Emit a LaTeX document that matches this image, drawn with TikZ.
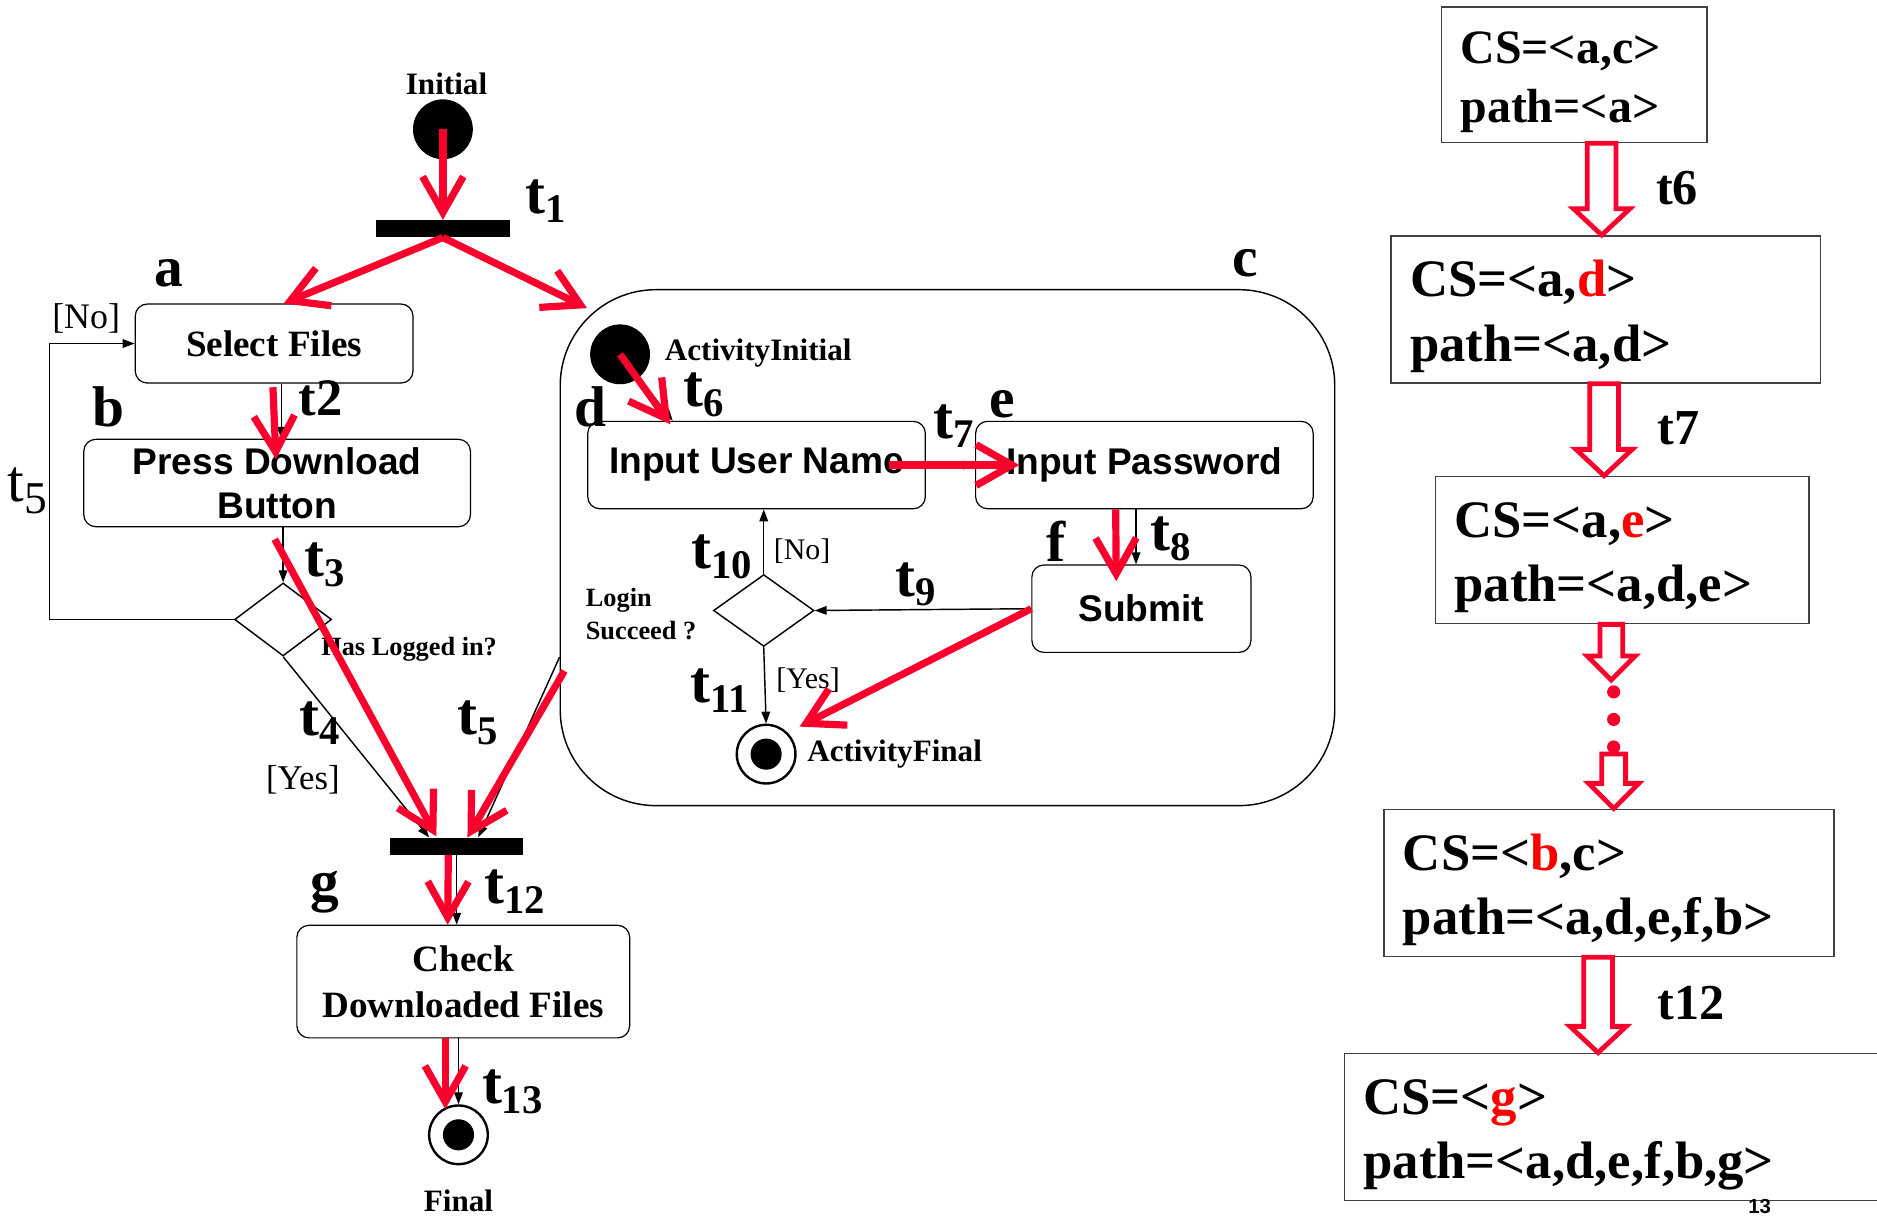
\documentclass[tikz,border=0pt]{standalone}
\usepackage{fontspec}
\setmainfont{Liberation Serif}
\newfontfamily\sansf{Liberation Sans}
\usetikzlibrary{arrows.meta,shapes.geometric,calc}
\definecolor{hl}{RGB}{250,0,45}
\newcommand{\fs}[2]{\fontsize{#1}{#2}\selectfont}
% bold transition label t with a lowered index
\newcommand{\tsub}[1]{\textbf{\fs{25}{25}t\raisebox{-4pt}{\fs{17}{17}#1}}}
% hollow block arrow between two points on a common vertical line
\newcommand{\hollowarrow}[6]{%
  \draw[hollow] let \p1=(#1 -| #3), \p2=(#2 -| #3) in
    (\x1-#4,\y1) -- (\x1-#4,\y2+#6) -- (\x1-#5,\y2+#6) -- (\x1,\y2)
    -- (\x1+#5,\y2+#6) -- (\x1+#4,\y2+#6) -- (\x1+#4,\y1) -- cycle;}
\begin{document}
\begin{tikzpicture}[x=0.5pt,y=-0.5pt,
  box/.style={draw, line width=0.5pt, rounded corners=5pt, inner sep=0pt, align=center},
  syncbar/.style={fill, inner sep=0pt, minimum height=7pt},
  dot/.style={circle, fill, inner sep=0pt, minimum size=25pt},
  ring/.style={circle, draw, line width=1pt, inner sep=0pt, minimum size=24.5pt},
  core/.style={circle, fill, inner sep=0pt, minimum size=13pt},
  choice/.style={diamond, draw, line width=0.6pt, inner sep=0pt},
  conn/.style={line width=0.6pt, -{Triangle[length=5pt,width=3.6pt]}},
  hot/.style={draw=hl, line width=3pt, -{Straight Barb[length=15pt,width=17pt]}},
  lab/.style={inner sep=0pt, font=\bfseries\fs{24}{24}},
  tl/.style={inner sep=0pt},
  csbox/.style={draw=black!75, line width=0.6pt, inner xsep=8pt, inner ysep=0pt, align=left, font=\bfseries\fs{22}{27}},
  hollow/.style={draw=hl, line width=2pt, fill=white, line join=miter},
  serifbox/.style={box, font=\bfseries\fs{15.5}{19}},
  sansbox/.style={box, font=\sansf\bfseries\fs{15.5}{18.5}},
]
\useasboundingbox (0,0) rectangle (1568,1015);

% ---------------- main activity ----------------
\node[dot] (init) at (370,108) {};
\node[font=\bfseries\fs{13}{13}, inner sep=0pt] (tinit) at (373,70) {Initial};
\node[syncbar, minimum width=56pt] (bar1) at (370,191) {};
\node[serifbox, minimum width=116pt, minimum height=33pt] (a) at (229,287) {Select Files};
\node[sansbox, minimum width=161.5pt, minimum height=36.5pt] (b) at (231.5,403.5) {Press Download\\Button};
\node[choice, minimum width=40.5pt, minimum height=30.5pt] (dec1) at (236.5,517.5) {};
\node[syncbar, minimum width=55.5pt] (bar2) at (381.5,707) {};
\node[serifbox, minimum width=139pt, minimum height=47pt] (g) at (387,820) {Check\\Downloaded Files};
\node[ring] (fin) at (383,948) {};
\node[core] (finc) at (fin.center) {};
\node[font=\bfseries\fs{13}{13}, inner sep=0pt] (tfin) at (383,1003) {Final};

% ---------------- composite state c ----------------
\node[draw, line width=0.6pt, rounded corners=40pt, minimum width=323.5pt, minimum height=215.5pt, inner sep=0pt] (c) at (791.5,457.5) {};
\node[dot] (ainit) at (518,296) {};
\node[anchor=west, inner sep=0pt, font=\bfseries\fs{13}{13}] (tainit) at (555,295) {ActivityInitial};
\node[sansbox, minimum width=141pt, minimum height=36.5pt] (d) at (632,388.5) {Input User Name};
\node[sansbox, minimum width=141pt, minimum height=36.5pt] (e) at (956,388.5) {Input Password};
\node[sansbox, minimum width=91.5pt, minimum height=36.5pt] (f) at (953.5,508.5) {Submit};
\node[choice, minimum width=42pt, minimum height=30pt] (dec2) at (638,510) {};
\node[ring] (afin) at (640,630) {};
\node[core] (afinc) at (afin.center) {};
\node[anchor=west, inner sep=0pt, font=\bfseries\fs{13}{13}] (tafin) at (674,630) {ActivityFinal};
\node[anchor=west, align=left, inner sep=0pt, font=\bfseries\fs{11}{13.5}] (tlogin) at (489,513) {Login\\Succeed ?};

% ---------------- labels ----------------
\node[tl] (t1) at (456,168) {\tsub{1}};
\node[lab] (la) at (141,228) {a};
\node[font=\fs{15}{15}, inner sep=0pt] (no1) at (72,266) {[No]};
\node[lab] (lb) at (91,340) {b};
\node[tl] (t2) at (268,333) {\textbf{\fs{22}{22}t2}};
\node[tl] (t5a) at (23,410) {\fs{25}{25}t\raisebox{-5pt}{\fs{19}{19}5}};
\node[tl] (t3) at (271,472) {\tsub{3}};
\node[anchor=west, inner sep=0pt, font=\bfseries\fs{11}{11}] (qlog) at (268,542) {Has Logged in?};
\node[tl] (t4) at (267,604) {\tsub{4}};
\node[font=\fs{14.5}{14.5}, inner sep=0pt] (yes1) at (253,651) {[Yes]};
\node[tl] (t5b) at (399,604) {\tsub{5}};
\node[lab] (lg) at (271,745) {g};
\node[tl] (t12) at (430,745) {\tsub{12}};
\node[tl] (t13) at (428,912) {\tsub{13}};
\node[lab] (lc) at (1040,220) {c};
\node[lab] (ld) at (493,340) {d};
\node[tl] (t6) at (588,330) {\tsub{6}};
\node[tl] (t7) at (797,356) {\tsub{7}};
\node[lab] (le) at (837,338) {e};
\node[lab] (lf) at (882,452) {f};
\node[tl] (t8) at (978,450) {\tsub{8}};
\node[tl] (t10) at (603,465) {\tsub{10}};
\node[font=\fs{12.5}{12.5}, inner sep=0pt] (no2) at (670,460) {[No]};
\node[tl] (t9) at (765,488) {\tsub{9}};
\node[tl] (t11) at (601,577) {\tsub{11}};
\node[font=\fs{12.5}{12.5}, inner sep=0pt] (yes2) at (675,568) {[Yes]};

% ---------------- black control flow ----------------
\coordinate (colab) at (235,0);
\coordinate (colf) at (949,0);
\draw[conn] (init) -- (bar1);
\draw[conn] (a.south -| colab) -- (b.north -| colab);
\draw[conn] (b.south -| dec1.north) -- (dec1.north);
\draw[conn] (dec1.west) -- ++(-154,0) |- (a.west);
\draw[conn] (dec1.south) -- ([xshift=-11.5pt]bar2.north);
\draw[conn] ([yshift=-45.75pt]c.west) -- ([xshift=9pt]bar2.north);
\draw[conn] (bar2.south) -- (bar2.south |- g.north);
\draw[conn] (g.south -| fin.north) -- (fin.north);
\draw[conn] (ainit) -- ([xshift=-35pt]d.north);
\draw[conn] (d.east) -- (e.west);
\draw[conn] (e.south -| colf) -- (f.north -| colf);
\draw[conn] (f.west) -- (dec2.east);
\draw[conn] (dec2.north) -- (d.south -| dec2.north);
\draw[conn] (dec2.south) -- (afin.north);

% ---------------- highlighted path ----------------
\draw[hot] (init.center) -- (bar1.north);
\draw[hot] (bar1.south) -- ([xshift=4pt]a.north);
\draw[hot] (bar1.south) -- ($(c.north west)+(23,16)$);
\draw[hot] ($(a.south)+(-1,3)$) -- ($(b.north)+(-1,17)$);
\draw[hot] ($(b.south)+(-2,10)$) -- ($(bar2.north)+(-17,-1)$);
\draw[hot] ($(c.west)+(4,103)$) -- ($(bar2.north)+(9,0)$);
\draw[hot] ($(bar2.south)+(-7,0)$) -- ($(g.north)+(-13,0)$);
\draw[hot] ($(g.south)+(-15,0)$) -- ($(fin.north)+(-11,4)$);
\draw[hot] (ainit.center) -- ($(d.north)+(-72,3)$);
\draw[hot] ($(d.east)+(-31,0)$) -- ($(e.west)+(37,0)$);
\draw[hot] ($(e.south)+(-24,0)$) -- ($(f.north)+(-21,14)$);
\draw[hot] (f.west) -- ($(afin.center)+(28,-23)$);

% ---------------- configuration trace ----------------
\node[csbox, font=\bfseries\fs{20}{24.5}, text width=95pt, minimum height=56.5pt] (r1) at (1315,62.5) {\rule{0pt}{19.5pt}CS=<a,c>\\path=<a>};
\node[csbox, text width=163.5pt, minimum height=61.5pt] (r2) at (1341.5,258.5) {\rule{0pt}{21pt}CS=<a,{\color{red}d}>\\path=<a,d>};
\node[csbox, text width=140pt, minimum height=61.5pt] (r3) at (1355,459.5) {\rule{0pt}{21pt}CS=<a,{\color{red}e}>\\path=<a,d,e>};
\node[csbox, text width=172pt, minimum height=61.5pt] (r4) at (1344,737.5) {\rule{0pt}{21pt}CS=<{\color{red}b},c>\\path=<a,d,e,f,b>};
\node[csbox, text width=222.5pt, minimum height=61.5pt] (r5) at (1361.5,941.5) {\rule{0pt}{21pt}CS=<{\color{red}g}>\\path=<a,d,e,f,b,g>};
\node[circle, fill=hl, inner sep=0pt, minimum size=5.5pt] (dt1) at (1348,578) {};
\node[circle, fill=hl, inner sep=0pt, minimum size=5.5pt] (dt2) at (1348,601) {};
\node[circle, fill=hl, inner sep=0pt, minimum size=5.5pt] (dt3) at (1348,624) {};
\coordinate (hx1) at (1338,0);
\coordinate (hx2) at (1340,0);
\coordinate (hx3) at (1346,0);
\coordinate (hx4) at (1348,0);
\coordinate (hx5) at (1335,0);
\coordinate (tip3) at (1346,568);
\hollowarrow{r1.south}{r2.north}{hx1}{6pt}{11.75pt}{11pt}
\hollowarrow{r2.south}{r3.north}{hx2}{6pt}{11.75pt}{11pt}
\hollowarrow{r3.south}{tip3}{hx3}{4.75pt}{10pt}{10pt}
\hollowarrow{dt3.south}{r4.north}{hx4}{5pt}{10.5pt}{10.5pt}
\hollowarrow{r4.south}{r5.north}{hx5}{6pt}{11.75pt}{11pt}
\node[inner sep=0pt, font=\bfseries\fs{21}{21}] (s6) at (1401,157) {t6};
\node[inner sep=0pt, font=\bfseries\fs{21}{21}] (s7) at (1402,358) {t7};
\node[inner sep=0pt, font=\bfseries\fs{21}{21}] (s12) at (1413,838) {t12};
\node[inner sep=0pt, font=\sansf\bfseries\fs{8.5}{8.5}] (pg) at (1470,1008) {13};
\end{tikzpicture}
\end{document}
